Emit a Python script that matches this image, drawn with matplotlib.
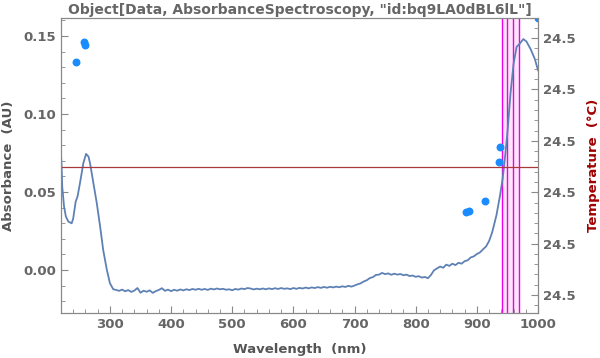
import numpy as np
import matplotlib.pyplot as plt
from matplotlib.ticker import MultipleLocator, FormatStrFormatter

# Absorbance spectrum
wavelength = [220, 221, 222, 225, 228, 232, 237.5, 240, 244, 247, 251, 256.5, 261, 265,
              267.5, 273, 278.5, 284, 289, 295, 300, 305.5,
              310, 315, 320, 325, 330, 335, 340, 345, 350, 355, 360, 365, 370, 375, 380, 385,
              390, 395, 400, 405, 410, 415, 420, 425, 430, 435, 440, 445, 450, 455, 460, 465,
              470, 475, 480, 485, 490, 495, 500, 505, 510, 515, 520, 525, 530, 535, 540, 545,
              550, 555, 560, 565, 570, 575, 580, 585, 590, 595, 600, 605, 610, 615, 620, 625,
              630, 635, 640, 645, 650, 655, 660, 665, 670, 675, 680, 685, 690, 695, 700, 705,
              710, 715, 720, 725, 730, 735, 740, 745, 750, 755, 760, 765, 770, 775, 780, 785,
              790, 795, 800, 805, 810, 815, 820, 825, 830, 835, 840, 845, 850, 855, 860, 865,
              870, 875, 880, 885, 890, 895, 900, 905, 910, 915, 920,
              925, 932, 938, 942, 946, 950, 955, 960, 965, 970, 976, 981, 988, 995, 1000]
absorbance = [0.0744, 0.0662, 0.0534, 0.0406, 0.0342, 0.0310, 0.0299, 0.0331, 0.0438, 0.0470,
              0.0556, 0.0684, 0.0744, 0.0726, 0.0684, 0.0556, 0.0428, 0.0278, 0.0128, 0.0000,
              -0.0085, -0.0124,
              -0.0128, -0.0134, -0.0126, -0.0137, -0.0129, -0.0141, -0.0132, -0.0116, -0.0146,
              -0.0133, -0.0140, -0.0131, -0.0147, -0.0136, -0.0128, -0.0117, -0.0134, -0.0126,
              -0.0136, -0.0127, -0.0133, -0.0125, -0.0131, -0.0124, -0.0129, -0.0122, -0.0127,
              -0.0121, -0.0127, -0.0122, -0.0128, -0.0120, -0.0125, -0.0119, -0.0124, -0.0121,
              -0.0127, -0.0124, -0.0130, -0.0122, -0.0126, -0.0119, -0.0123, -0.0116, -0.0119,
              -0.0125, -0.0120, -0.0124, -0.0119, -0.0124, -0.0118, -0.0123, -0.0117, -0.0122,
              -0.0116, -0.0121, -0.0118, -0.0123, -0.0116, -0.0121, -0.0115, -0.0119, -0.0113,
              -0.0118, -0.0112, -0.0116, -0.0110, -0.0115, -0.0109, -0.0114, -0.0108, -0.0112,
              -0.0107, -0.0111, -0.0105, -0.0109, -0.0102, -0.0107, -0.0100, -0.0092, -0.0086,
              -0.0074, -0.0066, -0.0052, -0.0046, -0.0032, -0.0030, -0.0019, -0.0027, -0.0022,
              -0.0031, -0.0024, -0.0030, -0.0026, -0.0034, -0.0030, -0.0039, -0.0036, -0.0044,
              -0.0040, -0.0049, -0.0045, -0.0053, -0.0032, -0.0002, 0.0010, 0.0022, 0.0014,
              0.0034, 0.0026, 0.0040, 0.0031, 0.0046, 0.0040, 0.0056, 0.0062, 0.0080, 0.0087,
              0.0102, 0.0112, 0.0132, 0.0150, 0.0185,
              0.0240, 0.0350, 0.0480, 0.0580, 0.0720, 0.0880, 0.1130, 0.1320, 0.1430, 0.1450,
              0.1480, 0.1465, 0.1415, 0.1350, 0.1280]

# scattered points
dot_x = [244.5, 257.5, 259, 882, 887, 913, 936, 938, 1000]
dot_y = [0.1333, 0.1462, 0.1442, 0.0372, 0.0378, 0.0442, 0.0692, 0.0788, 0.1615]

# temperature (right axis)
temperature = 24.4949
temp_ticks = [24.47, 24.48, 24.49, 24.50, 24.51, 24.52]

# marked wavelengths
marks = [940.4, 949.6, 959.4, 969.2]

gray = '#666666'
plt.rcParams['font.family'] = 'DejaVu Sans'
plt.rcParams['font.weight'] = 'bold'

fig = plt.figure(figsize=(6, 3.58), dpi=100)
ax = fig.add_axes([61/600, 1 - 313/358, 477/600, 295/358])

ax.axvspan(marks[0], marks[-1], color='#ffe6fa', zorder=0)
for m in marks:
    ax.axvline(m, color='#ee00ee', lw=1.0, zorder=1)

ax.plot(wavelength, absorbance, color='#5e81b5', lw=1.3, zorder=3)
ax.scatter(dot_x, dot_y, s=22, color='#1a8cff', zorder=4, clip_on=True)

ax.set_xlim(220, 1000)
ax.set_ylim(-0.0276, 0.1615)
ax.xaxis.set_minor_locator(MultipleLocator(20))
ax.yaxis.set_major_locator(MultipleLocator(0.05))
ax.yaxis.set_minor_locator(MultipleLocator(0.01))
ax.yaxis.set_major_formatter(FormatStrFormatter('%.2f'))
ax.set_xticks([300, 400, 500, 600, 700, 800, 900, 1000])

ax2 = ax.twinx()
ax2.axhline(temperature, color='#a83a3a', lw=0.9, zorder=2)
ax2.set_ylim(24.4665, 24.5239)
ax2.set_yticks(temp_ticks)
ax2.yaxis.set_minor_locator(MultipleLocator(0.002))
ax2.yaxis.set_major_formatter(FormatStrFormatter('%.1f'))

for a in (ax, ax2):
    for s in a.spines.values():
        s.set_color('#888888')
    a.tick_params(which='both', direction='in', color='#888888', labelcolor=gray,
                  labelsize=9.5)
    a.tick_params(which='major', length=5)
    a.tick_params(which='minor', length=3)
ax.tick_params(top=False, right=False)
ax2.tick_params(left=False)

ax.set_xlabel('Wavelength  (nm)', color='#555555', fontsize=9.5, fontweight='bold', labelpad=9)
ax.set_ylabel('Absorbance  (AU)', color='#555555', fontsize=9.5, fontweight='bold', labelpad=6)
ax2.set_ylabel('Temperature  (°C)', color='#a00000', fontsize=9.5, fontweight='bold', labelpad=8)
ax.set_title('Object[Data, AbsorbanceSpectroscopy, "id:bq9LA0dBL6lL"]', color='#666666',
             fontsize=10, fontweight='bold', pad=3)

fig.savefig('out.png', dpi=100)
